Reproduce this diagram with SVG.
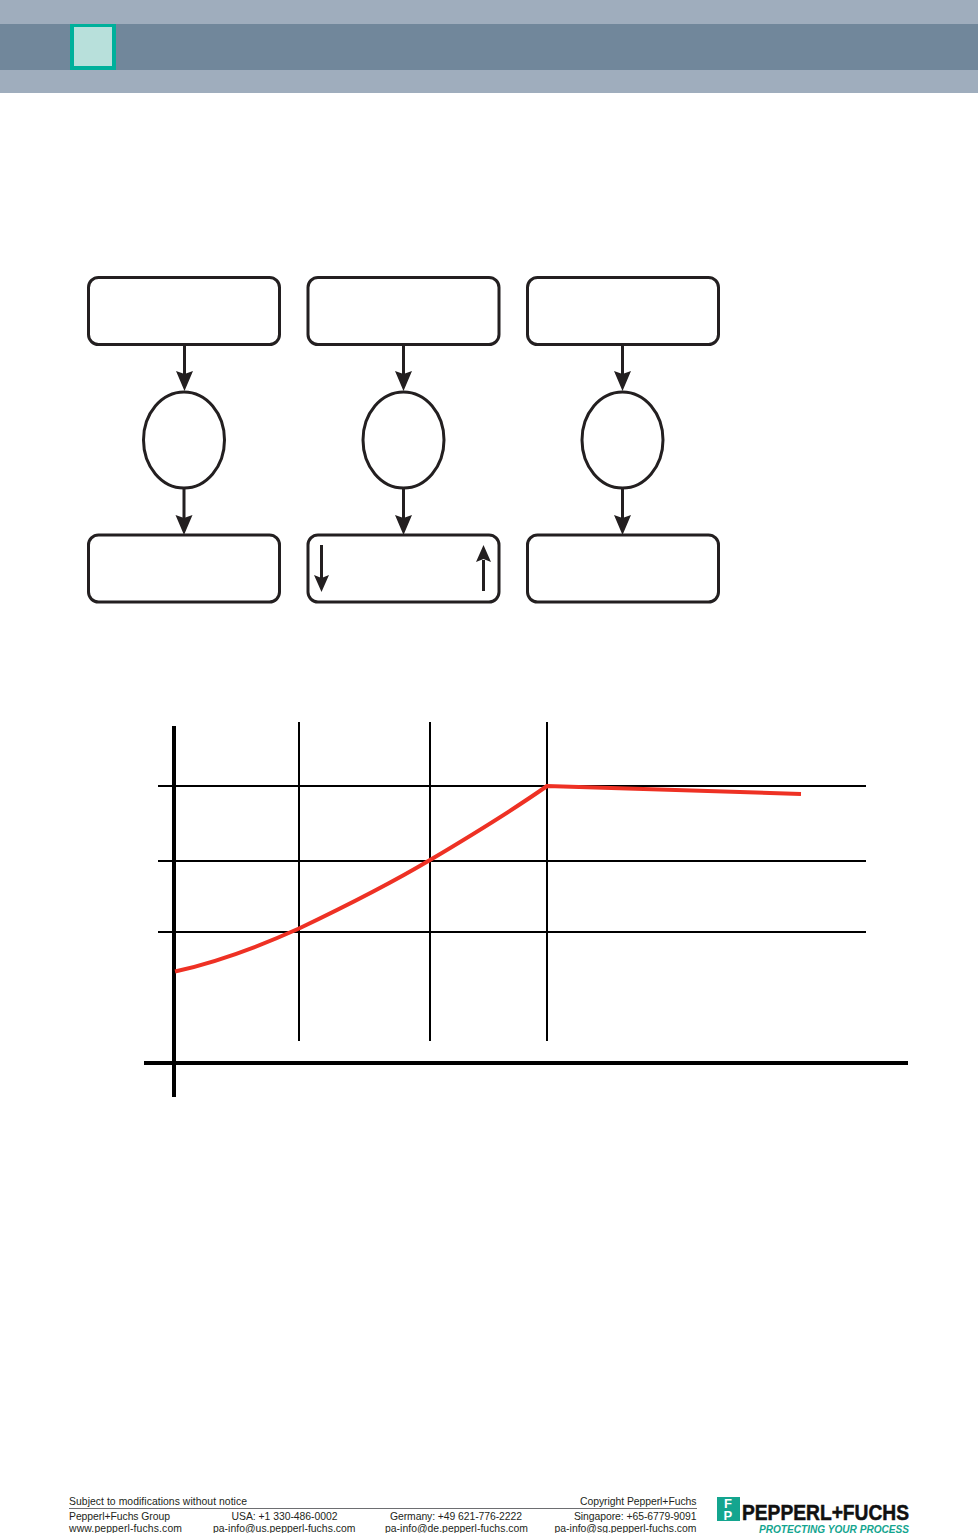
<svg xmlns="http://www.w3.org/2000/svg" width="978" height="1533" viewBox="0 0 978 1533">
<style>
.box{fill:#fff;stroke:#231f20;stroke-width:3}
.flow{fill:none;stroke:#231f20;stroke-width:3}
.head{fill:#231f20}
.grid{stroke:#000;stroke-width:2;fill:none}
.axis{stroke:#000;stroke-width:4;fill:none}
.ft{font-family:"Liberation Sans",Arial,sans-serif;font-size:10.4px;fill:#231f20}
.e{text-anchor:end}.m{text-anchor:middle}
</style>
<rect width="978" height="1533" fill="#fff"/>
<g id="header">
<rect width="978" height="93" fill="#9fadbd"/>
<rect y="24" width="978" height="46" fill="#71879b"/>
<rect x="70" y="24" width="46" height="46" fill="#00b09b"/>
<rect x="74" y="27" width="38" height="39" fill="#b8e0db"/>
</g>
<g id="connectors">
<path class="flow" d="M184.500 345V374M403.500 345V374M622.500 345V374M184 488V518M403.500 488V518M622.500 488V518"/>
<path class="head" d="M176 371L184.500 391L193 371L184.500 374ZM395 371L403.500 391L412 371L403.500 374ZM614 371L622.500 391L631 371L622.500 374ZM175.500 515L184 535L192.500 515L184 518ZM395 515L403.500 535L412 515L403.500 518ZM614 515L622.500 535L631 515L622.500 518Z"/>
</g>
<g id="box-top-1"><rect class="box" x="88.500" y="277.500" width="191" height="67" rx="10"/></g>
<g id="box-top-2"><rect class="box" x="308" y="277.500" width="191" height="67" rx="10"/></g>
<g id="box-top-3"><rect class="box" x="527.500" y="277.500" width="191" height="67" rx="10"/></g>
<g id="ellipse-1"><ellipse class="box" cx="184" cy="440" rx="40.500" ry="48"/></g>
<g id="ellipse-2"><ellipse class="box" cx="403.500" cy="440" rx="40.500" ry="48"/></g>
<g id="ellipse-3"><ellipse class="box" cx="622.500" cy="440" rx="40.500" ry="48"/></g>
<g id="box-bottom-1"><rect class="box" x="88.500" y="535" width="191" height="67" rx="10"/></g>
<g id="box-bottom-2"><rect class="box" x="308" y="535" width="191" height="67" rx="10"/>
<path class="flow" d="M321.500 545V578M483.500 591V560"/>
<path class="head" d="M314 575L321.500 592L329 575L321.500 578ZM476 562L483.500 545L491 562L483.500 559Z"/></g>
<g id="box-bottom-3"><rect class="box" x="527.500" y="535" width="191" height="67" rx="10"/></g>
<g id="chart">
<path class="grid" d="M299 722V1041M430 722V1041M547 722V1041M158 786H866M158 861H866M158 932H866"/>
<path class="axis" d="M174 726V1097M144 1063H908"/>
<path d="M175 971.500C218 962 258 947 299 928.500C344 907 388 885 430 860C472 835 510 812 547 786L801 794" fill="none" stroke="#ee3124" stroke-width="4"/>
</g>
<g id="footer">
<text class="ft" x="69" y="1505" textLength="178">Subject to modifications without notice</text>
<text class="ft" x="580" y="1505" textLength="116.500">Copyright Pepperl+Fuchs</text>
<rect x="69" y="1508" width="628" height="1" fill="#6d6e71"/>
<text class="ft" x="69" y="1520" textLength="101">Pepperl+Fuchs Group</text>
<text class="ft" x="69" y="1531.500" textLength="113">www.pepperl-fuchs.com</text>
<text class="ft" x="231.500" y="1520" textLength="106">USA: +1 330-486-0002</text>
<text class="ft" x="213" y="1531.500" textLength="142.500">pa-info@us.pepperl-fuchs.com</text>
<text class="ft" x="390" y="1520" textLength="132">Germany: +49 621-776-2222</text>
<text class="ft" x="385" y="1531.500" textLength="143">pa-info@de.pepperl-fuchs.com</text>
<text class="ft" x="574" y="1520" textLength="122.500">Singapore: +65-6779-9091</text>
<text class="ft" x="554.500" y="1531.500" textLength="142">pa-info@sg.pepperl-fuchs.com</text>
</g>
<g id="logo">
<rect x="717" y="1497" width="23" height="24" fill="#14a58f"/>
<text x="724" y="1507.500" font-family="Liberation Sans,sans-serif" font-weight="700" font-size="13" fill="#fff">F</text>
<text x="723.500" y="1519.500" font-family="Liberation Sans,sans-serif" font-weight="700" font-size="13" fill="#fff">P</text>
<text x="742" y="1520" font-family="Liberation Sans,sans-serif" font-weight="700" font-size="21.500" fill="#111" stroke="#111" stroke-width=".5" textLength="167" lengthAdjust="spacingAndGlyphs">PEPPERL+FUCHS</text>
<text x="759" y="1533" font-family="Liberation Sans,sans-serif" font-weight="700" font-style="italic" font-size="10.500" fill="#14a58f" textLength="150" lengthAdjust="spacingAndGlyphs">PROTECTING YOUR PROCESS</text>
</g>
</svg>
